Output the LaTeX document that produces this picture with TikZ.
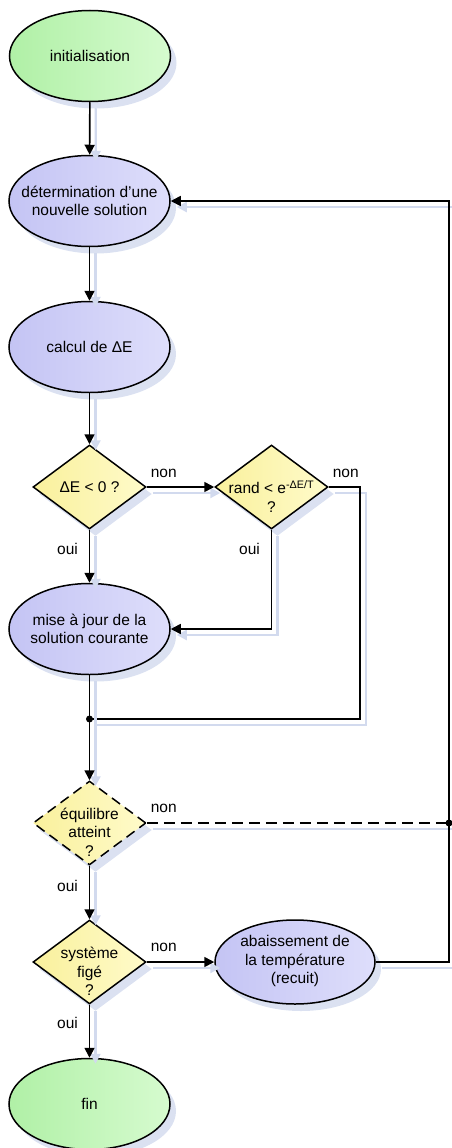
\documentclass[tikz,border=0pt]{standalone}
\usepackage{fontspec}
\setmainfont{Liberation Sans}
\usetikzlibrary{shapes.geometric,arrows.meta,shadows}

\definecolor{greenD}{HTML}{B0F0A6}
\definecolor{greenL}{HTML}{D6FBCF}
\definecolor{purpD}{HTML}{C4C4F4}
\definecolor{purpL}{HTML}{DEDEFB}
\definecolor{yelD}{HTML}{F9F09C}
\definecolor{yelL}{HTML}{FFFBCA}
\definecolor{shadowc}{HTML}{D2DAEE}

\tikzset{
  txt/.style={font=\fontsize{15.5}{18.5}\selectfont, align=center, inner sep=0pt},
  every label/.style={txt},
  softshadow/.style={drop shadow={shadow xshift=6pt, shadow yshift=-7pt, fill=shadowc, opacity=0.8}},
  termbox/.style={ellipse, draw, line width=1.5pt, minimum width=161pt, minimum height=91pt,
    inner sep=0pt, left color=greenD, right color=greenL, softshadow},
  procbox/.style={ellipse, draw, line width=1.5pt, minimum width=161pt, minimum height=91pt,
    inner sep=0pt, left color=purpD, right color=purpL, softshadow},
  testbox/.style={diamond, draw, line width=1.5pt, minimum width=113pt, minimum height=84pt,
    inner sep=0pt, left color=yelD, right color=yelL, softshadow},
  conn/.style={line width=1.6pt,
    preaction={draw=shadowc, line width=2.2pt, transform canvas={xshift=6pt,yshift=-6pt}}},
  arr/.style={conn, -{Triangle[length=10pt,width=10pt]}},
  lab/.style={txt},
  junction/.style={circle, fill=black, inner sep=0pt, minimum size=7pt},
}

\begin{document}
\begin{tikzpicture}[x=1pt, y=-1pt]
\useasboundingbox (0,0) rectangle (451,1148);

% main column of steps
\node[termbox, label={center:initialisation}] (init) at (90,56) {};
\node[procbox, label={center:détermination d’une\\nouvelle solution}] (det) at (89.5,201) {};
\node[procbox, label={center:calcul de ΔE}] (calc) at (89.5,347) {};
\node[testbox, label={center:ΔE < 0 ?}] (t1) at (89.5,487) {};
\node[testbox, label={[yshift=-9.5pt]center:rand < e\textsuperscript{-ΔE/T}\\?}] (t2) at (271.5,487) {};
\node[procbox, label={center:mise à jour de la\\solution courante}] (maj) at (89.5,629) {};
\node[testbox, dashed, dash pattern=on 10pt off 6pt,
      label={[yshift=-9pt]center:équilibre\\atteint\\?}] (eq) at (89.5,823) {};
\node[testbox, label={[yshift=-9.5pt]center:système\\figé\\?}] (sys) at (89.5,962) {};
\node[procbox, minimum height=84pt, minimum width=160pt,
      label={[yshift=1pt]center:abaissement de\\la température\\(recuit)}] (abs) at (295,962) {};
\node[termbox, label={center:fin}] (fin) at (89.5,1104) {};

% routing points
\coordinate (j1) at (89.5,719);
\coordinate (r1) at (360,487);
\coordinate (r2) at (360,719);
\coordinate (j2) at (449,823);
\coordinate (r3) at (449,962);
\coordinate (r4) at (449,201);

% connectors
\draw[arr] (init) -- (det);
\draw[arr] (det) -- (calc);
\draw[arr] (calc) -- (t1);
\draw[arr] (t1.east) -- (t2.west);
\draw[arr] (t1.south) -- (maj.north);
\draw[arr] (t2.south) |- (maj.east);
\draw[conn] (t2.east) -- (r1) -- (r2) -- (j1);
\draw[arr] (maj.south) -- (eq.north);
\draw[conn, dash pattern=on 11pt off 6pt] (eq.east) -- (j2);
\draw[arr] (eq.south) -- (sys.north);
\draw[arr] (sys.east) -- (abs.west);
\draw[arr] (sys.south) -- (fin.north);
\draw[arr] (abs.east) -- (r3) -- (r4) -- (det.east);

\node[junction] (dot1) at (j1) {};
\node[junction] (dot2) at (j2) {};

% branch labels
\node[lab] (n1) at ([xshift=17pt,yshift=14pt]t1.east) {non};
\node[lab] (o1) at ([xshift=-22pt,yshift=-19pt]t1.south) {oui};
\node[lab] (n2) at ([xshift=17pt,yshift=14pt]t2.east) {non};
\node[lab] (o2) at ([xshift=-22pt,yshift=-19pt]t2.south) {oui};
\node[lab] (n3) at ([xshift=17pt,yshift=15pt]eq.east) {non};
\node[lab] (o3) at ([xshift=-22pt,yshift=-20pt]eq.south) {oui};
\node[lab] (n4) at ([xshift=17pt,yshift=15pt]sys.east) {non};
\node[lab] (o4) at ([xshift=-22pt,yshift=-18pt]sys.south) {oui};
\end{tikzpicture}
\end{document}
